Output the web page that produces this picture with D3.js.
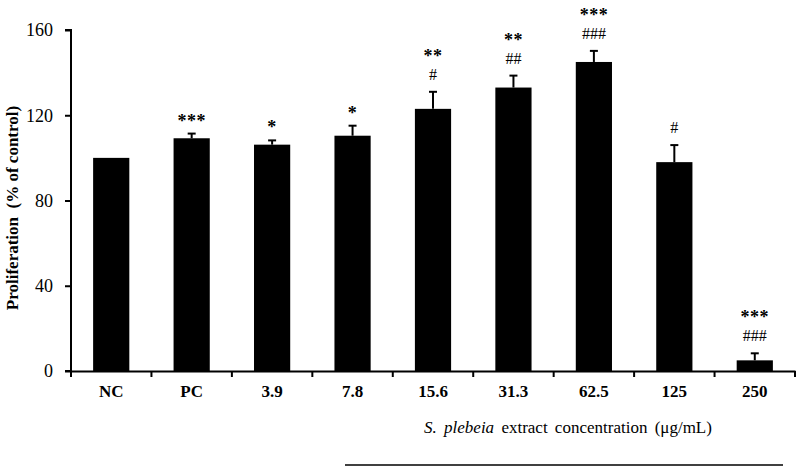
<!DOCTYPE html>
<html>
<head>
<meta charset="utf-8">
<script src="https://cdn.jsdelivr.net/npm/d3@7"></script>
<style>
  body { margin: 0; background: #fff; }
  text { font-family: "Liberation Serif", "Times New Roman", serif; }
</style>
</head>
<body>
<svg id="canvas" width="800" height="468"></svg>
<script>
let categories = ["NC", "PC", "3.9", "7.8", "15.6", "31.3", "62.5", "125", "250"];
let values = [100, 109.2, 106.2, 110.4, 123, 133, 145, 98, 5];
let errors = [0, 2.2, 2, 4.7, 8, 5.6, 5.2, 8, 3.3];
let stars = ["", "***", "*", "*", "**", "**", "***", "", "***"];
let hashes = ["", "", "", "", "#", "##", "###", "#", "###"];
let yTicks = [0, 40, 80, 120, 160];

let svg = d3.select("#canvas");

let x = d3.scaleBand()
  .domain(categories)
  .range([71, 795])
  .paddingInner(0.55)
  .paddingOuter(0.275);

let y = d3.scaleLinear()
  .domain([0, 160])
  .range([371, 30]);

// bars
svg.selectAll("rect.bar")
  .data(categories)
  .enter()
  .append("rect")
  .attr("class", "bar")
  .attr("x", d => x(d))
  .attr("width", x.bandwidth())
  .attr("y", (d, i) => y(values[i]))
  .attr("height", (d, i) => y(0) - y(values[i]))
  .attr("fill", "#000");

// error bars (upper half only)
let errG = svg.append("g").attr("stroke", "#000").attr("stroke-width", 2);
categories.forEach((c, i) => {
  if (!errors[i]) return;
  let cx = x(c) + x.bandwidth() / 2;
  errG.append("line")
    .attr("x1", cx).attr("x2", cx)
    .attr("y1", y(values[i])).attr("y2", y(values[i] + errors[i]));
  errG.append("line")
    .attr("x1", cx - 4).attr("x2", cx + 4)
    .attr("y1", y(values[i] + errors[i])).attr("y2", y(values[i] + errors[i]));
});

// significance marks: # just above the error bar, * above that
categories.forEach((c, i) => {
  let cx = x(c) + x.bandwidth() / 2;
  let top = y(values[i] + errors[i]);
  if (hashes[i]) {
    svg.append("text")
      .attr("x", cx)
      .attr("y", top - 12)
      .attr("text-anchor", "middle")
      .attr("font-size", 16)
      .text(hashes[i]);
  }
  if (stars[i]) {
    let off = hashes[i] ? 23 : 0;
    svg.append("text")
      .attr("x", cx)
      .attr("y", top - 7 - off)
      .attr("text-anchor", "middle")
      .attr("font-size", 18)
      .attr("font-weight", "bold")
      .attr("letter-spacing", 0.5)
      .text(stars[i]);
  }
});

// y axis
let yAxis = d3.axisLeft(y).tickValues(yTicks).tickSize(6).tickFormat(d3.format("d"));
let yg = svg.append("g")
  .attr("transform", "translate(71,0)")
  .call(yAxis);
yg.select(".domain").attr("stroke-width", 2).attr("d", "M-6,30H0V371H-6");
yg.selectAll(".tick line").attr("stroke-width", 2);
yg.selectAll(".tick text")
  .attr("font-size", 18)
  .attr("font-family", "Liberation Serif")
  .attr("fill", "#000")
  .attr("x", -18);

// x axis, labels centred on bars, ticks on category boundaries
let xAxis = d3.axisBottom(x).tickSize(0).tickPadding(14);
let xg = svg.append("g")
  .attr("transform", "translate(0,371)")
  .call(xAxis);
xg.select(".domain").attr("stroke-width", 2);
xg.selectAll(".tick text")
  .attr("font-size", 17)
  .attr("font-weight", "bold")
  .attr("font-family", "Liberation Serif")
  .attr("fill", "#000");

let bounds = categories.map(c => x(c) - x.step() * x.paddingOuter());
bounds.push(x.range()[1]);
xg.selectAll("line.bound")
  .data(bounds)
  .enter()
  .append("line")
  .attr("class", "bound")
  .attr("x1", d => d).attr("x2", d => d)
  .attr("y1", 0).attr("y2", 6)
  .attr("stroke", "#000")
  .attr("stroke-width", 2);

// axis titles
svg.append("text")
  .attr("transform", "translate(18,208) rotate(-90)")
  .attr("text-anchor", "middle")
  .attr("font-size", 17)
  .attr("font-weight", "bold")
  .attr("xml:space", "preserve")
  .text("Proliferation  (% of control)");

let xt = svg.append("text")
  .attr("x", 568)
  .attr("y", 433)
  .attr("text-anchor", "middle")
  .attr("font-size", 17)
  .attr("word-spacing", 3);
xt.append("tspan").attr("font-style", "italic").text("S. plebeia");
xt.append("tspan").text(" extract concentration (\u03bcg/mL)");

svg.append("line")
  .attr("x1", 345).attr("x2", 783)
  .attr("y1", 465).attr("y2", 465)
  .attr("stroke", "#000")
  .attr("stroke-width", 1.5);
</script>
</body>
</html>
